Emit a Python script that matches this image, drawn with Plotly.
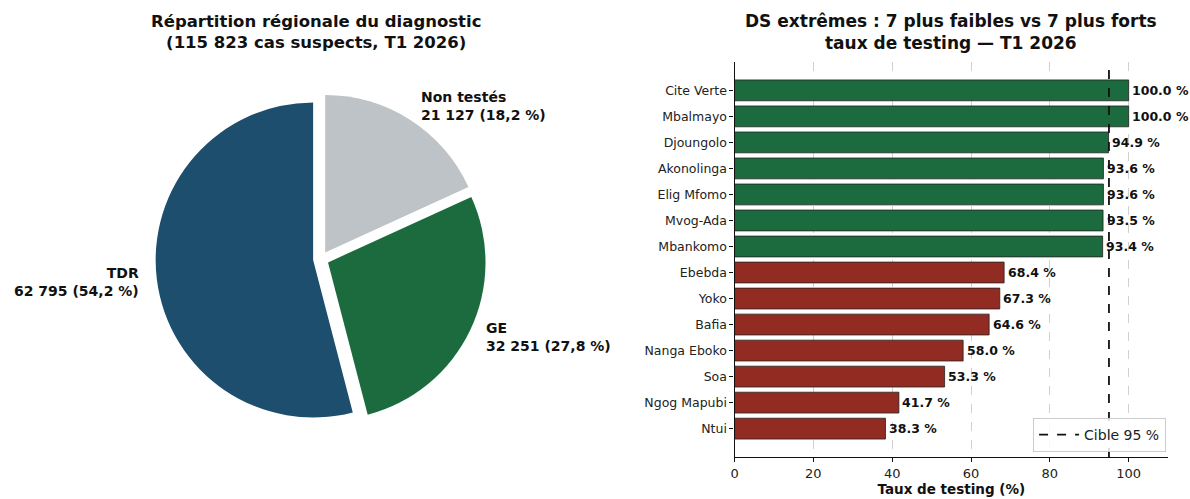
import math
import plotly.graph_objects as go

# ---------------- data ----------------
pie_labels = ["TDR", "GE", "Non testés"]
pie_values = [62795, 32251, 21127]
pie_colors = ["#1d4e6e", "#1b6b3e", "#bdc3c7"]
total_suspects = 115823

ds_names = ["Cite Verte", "Mbalmayo", "Djoungolo", "Akonolinga", "Elig Mfomo",
            "Mvog-Ada", "Mbankomo", "Ebebda", "Yoko", "Bafia", "Nanga Eboko",
            "Soa", "Ngog Mapubi", "Ntui"]
ds_rates = [100.0, 100.0, 94.9, 93.6, 93.6, 93.5, 93.4,
            68.4, 67.3, 64.6, 58.0, 53.3, 41.7, 38.3]
ds_group = ["fort"] * 7 + ["faible"] * 7
group_colors = {"fort": "#1b6b3e", "faible": "#922b21"}
target = 95
x_ticks = [0, 20, 40, 60, 80, 100]

W, H = 1190, 499
FONT = "DejaVu Sans"


def px(x):
    return x / W


def py(y):
    return 1 - y / H


def fr(n):
    return f"{n:,}".replace(",", " ")


fig = go.Figure()

# ---------------- pie ----------------
# slices laid counterclockwise from 12 o'clock (clockwise with reversed order)
cx, cy, r, pull = 318, 259, 158, 0.05
half = r * (1 + pull)
fig.add_trace(go.Pie(
    labels=pie_labels[::-1], values=pie_values[::-1], sort=False,
    direction="clockwise", rotation=0,
    marker=dict(colors=pie_colors[::-1], line=dict(width=0)),
    pull=[pull] * 3, textinfo="none", hoverinfo="label+value+percent",
    showlegend=False,
    domain=dict(x=[px(cx - half), px(cx + half)], y=[py(cy + half), py(cy - half)]),
))

total = sum(pie_values)
start = 90.0
for lab, v in zip(pie_labels, pie_values):
    span = 360 * v / total
    mid = math.radians(start + span / 2)
    start += span
    d = r * (1.1 + pull)
    lx = cx + d * math.cos(mid)
    ly = cy - d * math.sin(mid)
    pct = f"{100 * v / total_suspects:.1f}".replace(".", ",")
    side = "left" if math.cos(mid) > 0 else "right"
    fig.add_annotation(
        x=px(lx), y=py(ly), xref="paper", yref="paper",
        text=f"<b>{lab}<br>{fr(v)} ({pct} %)</b>", showarrow=False,
        xanchor=side, yanchor="middle", align=side,
        font=dict(family=FONT, size=14, color="#111"),
    )

# ---------------- bars ----------------
fig.add_trace(go.Bar(
    x=ds_rates, y=ds_names, orientation="h",
    marker=dict(color=[group_colors[g] for g in ds_group],
                line=dict(color="#222", width=0.8)),
    width=0.8, showlegend=False, xaxis="x", yaxis="y",
))
for n, v in zip(ds_names, ds_rates):
    fig.add_annotation(
        x=v + 0.4, y=n, xref="x", yref="y", text=f"<b>{v:.1f} %</b>",
        showarrow=False, xanchor="left", yanchor="middle",
        font=dict(family=FONT, size=12.5, color="#111"),
    )

fig.add_shape(type="line", x0=target, x1=target, y0=0, y1=1,
              xref="x", yref="y domain", layer="above",
              line=dict(color="#111", width=1.8, dash="dash"),
              showlegend=True, name=f"Cible {target} %")

fig.update_layout(
    width=W, height=H, paper_bgcolor="white", plot_bgcolor="white",
    margin=dict(l=0, r=0, t=0, b=0),
    font=dict(family=FONT, color="#222"),
    xaxis=dict(domain=[px(733), px(1168)], range=[0, 110], tickvals=x_ticks,
               showgrid=True, gridcolor="rgba(170,170,170,0.55)", griddash="dash",
               gridwidth=1, showline=True, linecolor="#111", linewidth=1.2,
               ticks="outside", ticklen=4, tickcolor="#111", zeroline=False,
               tickfont=dict(size=13, color="#222"), anchor="y",
               title=dict(text="<b>Taux de testing (%)</b>", standoff=4,
                          font=dict(size=13.5, color="#111"))),
    yaxis=dict(domain=[py(457), py(62)], range=[14.09, -1.09],
               showline=True, linecolor="#111", linewidth=1.2,
               ticks="outside", ticklen=4, tickcolor="#111", showgrid=False,
               tickfont=dict(size=12.5, color="#222"), anchor="x"),
    legend=dict(x=px(1166), y=py(452), xanchor="right", yanchor="bottom",
                bgcolor="rgba(255,255,255,0.85)", bordercolor="#ccc", borderwidth=1,
                itemwidth=40, font=dict(size=14, color="#222")),
)

fig.add_annotation(x=px(313), y=py(32), xref="paper", yref="paper", showarrow=False,
                   text="<b>Répartition régionale du diagnostic<br>(115 823 cas suspects, T1 2026)</b>",
                   font=dict(family=FONT, size=16.5, color="#111"), xanchor="center", yanchor="middle")
fig.add_annotation(x=px(950), y=py(32), xref="paper", yref="paper", showarrow=False,
                   text="<b>DS extrêmes : 7 plus faibles vs 7 plus forts<br>taux de testing — T1 2026</b>",
                   font=dict(family=FONT, size=17, color="#111"), xanchor="center", yanchor="middle")

fig.write_html("out.html", config={"displayModeBar": False},
               post_script="document.body.style.margin='0';")
